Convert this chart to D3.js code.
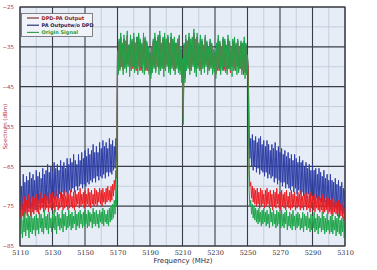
<!DOCTYPE html>
<html><head><meta charset="utf-8">
<script src="https://cdn.jsdelivr.net/npm/d3@7"></script>
<style>body{margin:0;background:#fff}svg{display:block}</style>
</head><body>
<script>
// Frequency grid (MHz), 1 MHz steps 5110..5310
const freqStart = 5110, freqEnd = 5310;
const xTicks = [5110,5130,5150,5170,5190,5210,5230,5250,5270,5290,5310];
const yTicks = [-25,-35,-45,-55,-65,-75,-85];
const seriesNames = ["DPD-PA Output","PA Outputw/o DPD","Origin Signal"];

// Upper / lower envelopes of each trace (dBm), one value per MHz
const greenHi = [
-78,-77,-78.5,-76.5,-78,-77,-77.5,-76,-78,-77.5,-77,-78,-76.5,-77,-78,-76,-77.5,-77,-76.5,-78,
-77,-76,-77.5,-76.5,-77,-78,-76,-77,-76.5,-77.5,-76,-77,-76.5,-77.5,-76,-77,-76.5,-76,-77,-76.5,
-76,-77,-76,-76.5,-77,-75.5,-76.5,-76,-77,-76,-76.5,-75.5,-76,-77,-76,-75.5,-75,-74.5,-73.5,-71,
-36,-33,-31.5,-34,-32,-33.5,-31,-34.5,-32,-33,-31.5,-34,-32.5,-31.5,-33,-34,-31.5,-32.5,-33.5,-35,
-36.5,-35,-33,-31.5,-33.5,-32,-31,-34,-32.5,-31.5,-33,-32,-34,-31.5,-33,-32.5,-34,-33,-32,-35,
-38,
-34,-32,-33.5,-31.5,-33,-32.5,-30.5,-33,-31.5,-34,-32,-33,-34.5,-32,-33.5,-35,-33,-34,-35.5,
-36,-34,-32,-33.5,-35,-32.5,-33,-34.5,-32,-33.5,-35,-33,-32.5,-34,-33,-35,-33.5,-34,-32.5,-34,
-37,
-71,-73.5,-74.5,-75,-75.5,-76,-75.5,-76.5,-76,-75.5,-76.5,-76,-77,-75.5,-76.5,-76,-77,-76,-76.5,-77,
-76,-77,-76.5,-76,-77.5,-76.5,-77,-76,-77.5,-77,-76.5,-77,-78,-76.5,-77,-77.5,-76.5,-78,-77,-77.5,
-76.5,-78,-77,-77.5,-78,-76.5,-77.5,-78,-77,-78.5,-77.5,-77,-78.5,-77.5,-78,-77,-78.5,-78,-77.5,-79];
const greenLo = [
-82,-83,-81.5,-82.5,-81,-83,-81.5,-82,-81,-82.5,-81,-82,-80.5,-81.5,-82,-80.5,-81,-82,-80.5,-81.5,
-80.5,-81,-82,-80,-81,-80.5,-81.5,-80,-81,-80.5,-80,-81,-80.5,-79.5,-81,-80,-80.5,-79.5,-80.5,-80,
-79.5,-80.5,-80,-79,-80.5,-79.5,-80,-79.5,-80.5,-79,-79.5,-80,-79,-79.5,-80,-79,-78.5,-78,-77,-75,
-42,-41,-40,-42,-40.5,-41.5,-40,-42.5,-41,-40,-41.5,-40.5,-42,-41,-40,-41.5,-42,-40.5,-41,-42,
-43,-41.5,-40.5,-41.5,-40,-42,-41,-40.5,-42.5,-41,-40,-41.5,-42,-40.5,-41,-42,-40.5,-41.5,-42,-44,
-54.5,
-44,-41,-40.5,-42,-41,-40,-41.5,-42.5,-40.5,-41,-42,-40.5,-41.5,-40,-42,-41,-40.5,-42,-41.5,
-43,-41,-40.5,-42,-41,-40,-41.5,-42,-40.5,-41,-42.5,-41,-40.5,-42,-41.5,-40.5,-42,-41,-43,-42,
-45,
-75,-77,-78,-78.5,-79,-79.5,-79,-80,-79.5,-79,-80,-79.5,-80.5,-79,-80,-79.5,-80.5,-80,-79.5,-80.5,
-80,-80.5,-79.5,-81,-80,-80.5,-81,-80,-81,-80.5,-80,-81,-80.5,-81.5,-80,-81,-80.5,-81.5,-81,-80.5,
-81.5,-81,-82,-80.5,-81.5,-81,-82,-81.5,-81,-82,-81.5,-82,-81,-82.5,-81.5,-82,-82.5,-81.5,-83,-82.5];

const redHi = [
-74,-73,-74.5,-72.5,-73.5,-72,-73,-74,-72.5,-73,-72,-73.5,-72,-71.5,-73,-72,-72.5,-71.5,-73,-72,
-71.5,-72.5,-71,-72,-73,-71.5,-72,-71,-72.5,-71.5,-72,-71,-72.5,-71.5,-71,-72,-71.5,-70.5,-72,-71.5,
-71,-72,-70.5,-71.5,-71,-72,-70.5,-71,-71.5,-70.5,-71,-70.5,-71.5,-70.5,-70,-71,-70,-69.5,-68.5,-66,
-37,-34,-33,-35,-33.5,-34,-32.5,-35,-33,-34,-33.5,-34.5,-33,-32.5,-34,-35,-33,-33.5,-34,-36,
-37,-35.5,-34,-33,-34.5,-33,-32.5,-35,-33.5,-33,-34,-33,-35,-33,-34,-33.5,-34.5,-34,-33,-36,
-39,
-35,-33.5,-34,-33,-34.5,-33.5,-32,-34,-33,-35,-33.5,-34,-35.5,-33,-34.5,-36,-34,-35,-36.5,
-37,-35,-33.5,-34.5,-36,-33.5,-34,-35.5,-33.5,-34.5,-36,-34,-33.5,-35,-34,-36,-34.5,-35,-34,-35,
-38,
-66,-69,-70,-70.5,-71,-70.5,-71.5,-70.5,-71,-72,-71,-70.5,-71.5,-71,-72,-71,-71.5,-70.5,-72,-71.5,
-71,-72,-71.5,-71,-72.5,-71.5,-71,-72,-71.5,-72.5,-71.5,-72,-71,-72.5,-72,-71.5,-72.5,-72,-71.5,-72.5,
-72,-73,-72,-72.5,-73,-72,-73,-73.5,-72.5,-73,-73.5,-73,-74,-73.5,-74,-73.5,-74.5,-74,-75,-75.5];
const redLo = [
-78,-77.5,-78.5,-77,-77.5,-76.5,-77.5,-76.5,-77,-76,-76.5,-77,-76,-75.5,-76.5,-76,-75.5,-76.5,-75.5,-76,
-75.5,-76.5,-75,-76,-75.5,-75,-76,-75.5,-75,-76,-75.5,-75,-75.5,-76,-75,-74.5,-75.5,-75,-74.5,-75.5,
-75,-74.5,-75,-75.5,-74.5,-75,-74.5,-75,-74,-74.5,-75,-74,-74.5,-74,-73.5,-74,-73.5,-72.5,-71,-68,
-41,-40.5,-40,-41,-40,-40.5,-39.5,-41,-40,-40.5,-39.5,-41,-40,-40.5,-41,-39.5,-40,-41,-40.5,-41.5,
-42,-40.5,-40,-41,-39.5,-40.5,-41,-40,-40.5,-41,-39.5,-40.5,-41,-40,-40.5,-41,-40,-40.5,-41,-43,
-52,
-43,-40.5,-40,-41,-40.5,-39.5,-40.5,-41,-40,-40.5,-41,-40,-40.5,-39.5,-41,-40.5,-40,-41,-40.5,
-42,-40.5,-41,-40,-40.5,-41,-40,-41,-40.5,-41.5,-40,-40.5,-41,-40,-41.5,-40.5,-41,-42,-41.5,-42,
-41,
-70,-73,-74,-74.5,-75,-74.5,-75.5,-75,-74.5,-75.5,-75,-74.5,-75.5,-75,-76,-75,-75.5,-74.5,-75.5,-76,
-75,-75.5,-76,-75,-75.5,-76,-75.5,-75,-76,-75.5,-75,-76,-75.5,-76,-75,-76,-75.5,-76.5,-75.5,-76,
-76.5,-75.5,-76,-76.5,-76,-77,-76.5,-76,-77,-76.5,-77,-77.5,-76.5,-77,-77.5,-78,-77.5,-78,-78.5,-79];

const blueHi = [
-68.5,-70,-67,-69,-67.5,-68.5,-66.5,-68,-67,-68.5,-66,-67.5,-66.5,-68,-65.5,-67,-66,-64.5,-66.5,-65,
-66.5,-64,-65.5,-64.5,-66,-63.5,-65,-64,-65.5,-63,-64.5,-63,-64,-62,-63.5,-64.5,-62,-63.5,-61.5,-63,
-61,-62.5,-60.5,-62,-61,-59.5,-61.5,-60,-61.5,-59,-60.5,-58.5,-60,-59,-60.5,-58,-59.5,-58.5,-60,-58,
-36,-33.5,-32.5,-34.5,-33,-33.5,-32,-34.5,-33,-33.5,-32.5,-34,-32.5,-32,-33.5,-34.5,-32.5,-33,-34,-35.5,
-36.5,-35,-33.5,-32.5,-34,-32.5,-32,-34.5,-33,-32.5,-33.5,-32.5,-34.5,-32.5,-33.5,-33,-34,-33.5,-32.5,-35.5,
-38.5,
-34.5,-33,-33.5,-32.5,-34,-33,-31.5,-33.5,-32.5,-34.5,-33,-33.5,-35,-32.5,-34,-35.5,-33.5,-34.5,-36,
-36.5,-34.5,-33,-34,-35.5,-33,-33.5,-35,-33,-34,-35.5,-33.5,-33,-34.5,-33.5,-35.5,-34,-34.5,-33.5,-34.5,
-37.5,
-56.5,-58,-57,-58.5,-57.5,-59,-58,-57.5,-59.5,-58.5,-60,-58.5,-59.5,-61,-59.5,-60.5,-59,-61,-60,-61.5,
-60.5,-62,-61,-62.5,-61.5,-63,-62,-63.5,-62,-63,-64,-62.5,-64,-63.5,-65,-64,-65.5,-64.5,-66,-64.5,
-66,-65.5,-67,-65.5,-66.5,-67.5,-66,-68,-67,-68.5,-67,-68.5,-69,-68,-69.5,-68.5,-70,-69,-70.5,-71];
const blueLo = [
-77,-76,-77.5,-76,-76.5,-75.5,-77,-75.5,-76,-75,-76,-74.5,-75.5,-74,-75,-74.5,-73.5,-74.5,-73,-74,
-73,-73.5,-72.5,-73,-72,-73,-71.5,-72.5,-71.5,-72,-71,-71.5,-70.5,-71.5,-70,-71,-70,-69.5,-70.5,-69.5,
-70,-69,-69.5,-68.5,-69,-68,-69,-67.5,-68.5,-67.5,-68,-67,-68,-66.5,-67.5,-66.5,-67,-66,-65.5,-64,
-41,-40,-39.5,-40.5,-39.5,-40,-39,-40.5,-39.5,-40,-39,-40.5,-39.5,-40,-40.5,-39,-39.5,-40.5,-40,-41,
-41.5,-40,-39.5,-40.5,-39,-40,-40.5,-39.5,-40,-40.5,-39,-40,-40.5,-39.5,-40,-40.5,-39.5,-40,-40.5,-42.5,
-50,
-42.5,-40,-39.5,-40.5,-40,-39,-40,-40.5,-39.5,-40,-40.5,-39.5,-40,-39,-40.5,-40,-39.5,-40.5,-40,
-41.5,-40,-40.5,-39.5,-40,-40.5,-39.5,-40.5,-40,-41,-39.5,-40,-40.5,-39.5,-41,-40,-40.5,-41.5,-41,-41.5,
-41,
-63,-65,-66,-65,-66.5,-65.5,-67,-66,-66.5,-67.5,-66.5,-68,-67,-68,-67.5,-69,-68,-69.5,-68.5,-69,
-70,-69,-70.5,-69.5,-70.5,-71,-70,-71.5,-70.5,-72,-71,-72,-71.5,-72.5,-72,-73,-72,-73.5,-72.5,-73.5,
-74,-73,-74.5,-73.5,-74,-75,-74,-75.5,-74.5,-75.5,-76,-75,-76.5,-75.5,-76,-77,-76,-77,-76.5,-78];

const W = 377, H = 270;
const M = {left: 20, right: 345, top: 7, bottom: 246};
const svg = d3.select("body").append("svg").attr("width", W).attr("height", H);

const x = d3.scaleLinear().domain([freqStart, freqEnd]).range([M.left, M.right]);
const y = d3.scaleLinear().domain([-25, -85]).range([M.top, M.bottom]);

// plot background
svg.append("rect").attr("x", M.left).attr("y", M.top)
  .attr("width", M.right - M.left).attr("height", M.bottom - M.top)
  .attr("fill", "#e7edf7");

// minor grid
const minorX = d3.range(freqStart + 10, freqEnd, 20);
const minorY = d3.range(-30, -85, -10);
svg.append("g").selectAll("line").data(minorX).join("line")
  .attr("x1", d => x(d)).attr("x2", d => x(d)).attr("y1", M.top).attr("y2", M.bottom)
  .attr("stroke", "#bcc6d6").attr("stroke-width", 0.8);
svg.append("g").selectAll("line").data(minorY).join("line")
  .attr("y1", d => y(d)).attr("y2", d => y(d)).attr("x1", M.left).attr("x2", M.right)
  .attr("stroke", "#bcc6d6").attr("stroke-width", 0.8);
// major grid
svg.append("g").selectAll("line").data(xTicks).join("line")
  .attr("x1", d => x(d)).attr("x2", d => x(d)).attr("y1", M.top).attr("y2", M.bottom)
  .attr("stroke", "#3a3d44").attr("stroke-width", 1.1);
svg.append("g").selectAll("line").data(yTicks).join("line")
  .attr("y1", d => y(d)).attr("y2", d => y(d)).attr("x1", M.left).attr("x2", M.right)
  .attr("stroke", "#3a3d44").attr("stroke-width", 1.1);

// traces
function zig(hi, lo) {
  const pts = [];
  hi.forEach((h, i) => {
    pts.push([freqStart + i, h]);
    pts.push([freqStart + i + 0.5, lo[i]]);
  });
  return pts;
}
const line = d3.line().x(d => x(d[0])).y(d => y(d[1]));
svg.append("clipPath").attr("id", "c").append("rect")
  .attr("x", M.left).attr("y", M.top).attr("width", M.right - M.left).attr("height", M.bottom - M.top);
const gT = svg.append("g").attr("clip-path", "url(#c)");
[[blueHi, blueLo, "#2f3fa6"], [redHi, redLo, "#ec1f24"], [greenHi, greenLo, "#1fa64a"]]
  .forEach(([hi, lo, c]) => {
    gT.append("path").attr("d", line(zig(hi, lo))).attr("fill", "none")
      .attr("stroke", c).attr("stroke-width", 1).attr("stroke-linejoin", "miter");
  });

// frame
svg.append("rect").attr("x", M.left).attr("y", M.top)
  .attr("width", M.right - M.left).attr("height", M.bottom - M.top)
  .attr("fill", "none").attr("stroke", "#3a3d44").attr("stroke-width", 1.1);

// axes labels
const xAxis = d3.axisBottom(x).tickValues(xTicks).tickSize(0).tickPadding(4).tickFormat(d3.format("d"));
const gx = svg.append("g").attr("transform", `translate(0,${M.bottom})`).call(xAxis);
gx.select(".domain").remove();
gx.selectAll("text").attr("font-family", "DejaVu Serif, serif").attr("font-size", 6.5)
  .attr("fill", "#2a2a3a");
const yAxis = d3.axisLeft(y).tickValues(yTicks).tickSize(0).tickPadding(6);
const gy = svg.append("g").attr("transform", `translate(${M.left},0)`).call(yAxis);
gy.select(".domain").remove();
gy.selectAll("text").attr("font-family", "DejaVu Sans, sans-serif").attr("font-size", 5.5)
  .attr("fill", "#b0344a");

svg.append("text").attr("x", 183).attr("y", 263).attr("text-anchor", "middle")
  .attr("font-family", "DejaVu Sans, sans-serif").attr("font-size", 7).attr("fill", "#2a2a44")
  .text("Frequency (MHz)");
svg.append("text").attr("transform", `translate(7,${(M.top + M.bottom) / 2}) rotate(-90)`)
  .attr("text-anchor", "middle").attr("font-family", "DejaVu Sans, sans-serif")
  .attr("font-size", 5.5).attr("fill", "#b0344a").text("Spectrum (dBm)");

// legend
const lg = svg.append("g");
lg.append("rect").attr("x", 21.5).attr("y", 13.5).attr("width", 71).attr("height", 23)
  .attr("fill", "#f0f3f9").attr("stroke", "#666").attr("stroke-width", 0.8);
const legLine = ["#7a1e1e", "#1e2266", "#2a9a3a"];
const legText = ["#8a2424", "#22245e", "#2a9a3a"];
seriesNames.forEach((n, i) => {
  const yy = 18 + i * 7.2;
  lg.append("line").attr("x1", 27).attr("x2", 39).attr("y1", yy).attr("y2", yy)
    .attr("stroke", legLine[i]).attr("stroke-width", 1.1);
  lg.append("text").attr("x", 41.5).attr("y", yy + 1.8).attr("font-family", "DejaVu Sans, sans-serif")
    .attr("font-size", 5).attr("font-weight", "bold").attr("fill", legText[i]).text(n);
});
</script>
</body></html>
